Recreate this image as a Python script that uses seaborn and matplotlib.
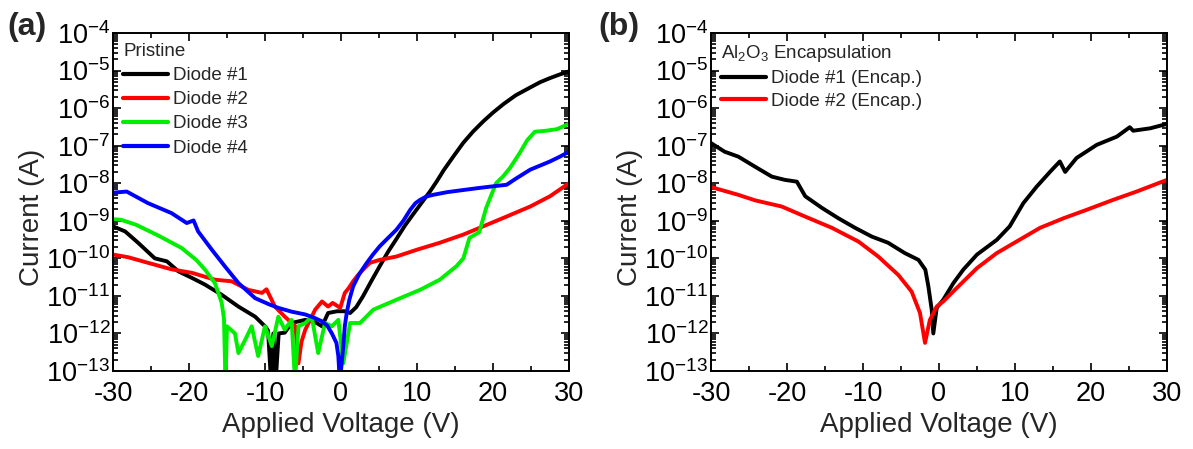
import numpy as np
import pandas as pd
import matplotlib
matplotlib.use("Agg")
import matplotlib.pyplot as plt
import matplotlib.ticker as mticker
import seaborn as sns

# ---- Pristine diodes (panel a) ----
v_d1 = [-30, -28.4, -26.7, -24.5, -22.9, -21.4, -19.6, -17.9, -15.7, -13.5, -11.3, -10.0,
        -9.6, -9.2, -8.9, -8.6, -8.2, -7.4, -6.5, -4.7, -3.4, -2.5, -1.7, -0.5, 0.5, 1.2,
        2.0, 2.9, 4.0, 5.1, 6.2, 7.3, 8.4, 9.5, 10.6, 11.7, 12.6, 13.5, 14.8, 16.1, 17.4,
        18.7, 20.0, 21.4, 23.0, 24.9, 26.2, 27.5, 28.8, 30]
i_d1 = [7.1e-10, 5.2e-10, 2.6e-10, 1.0e-10, 8.3e-11, 4.5e-11, 3.0e-11, 2.0e-11, 1.07e-11,
        5.2e-12, 2.8e-12, 1.55e-12, 1.2e-12, 5e-14, 1.0e-12, 5e-14, 1.0e-12, 1.05e-12,
        1.9e-12, 2.3e-12, 2.0e-12, 1.55e-12, 3.5e-12, 3.9e-12, 3.9e-12, 3.5e-12, 5.0e-12,
        9.8e-12, 2.5e-11, 6.2e-11, 1.5e-10, 3.3e-10, 7.4e-10, 1.5e-9, 3.0e-9, 6.0e-9,
        1.12e-8, 2.2e-8, 5.2e-8, 1.2e-7, 2.4e-7, 4.4e-7, 7.6e-7, 1.29e-6, 2.2e-6, 3.55e-6,
        4.9e-6, 6.3e-6, 7.9e-6, 9.5e-6]

v_d2 = [-30, -28, -25.4, -22.3, -19.6, -16.6, -14.4, -12.2, -10.4, -9.8, -8.7, -7.4, -6.0,
        -5.6, -5.2, -4.7, -3.4, -2.5, -1.7, -1.1, -0.1, 0.5, 1.0, 1.6, 2.2, 2.9, 3.8, 5.1,
        7.3, 10.0, 13.0, 16.1, 18.7, 21.8, 24.9, 27.5, 30]
i_d2 = [1.26e-10, 1.07e-10, 7.6e-11, 5.1e-11, 4.1e-11, 2.7e-11, 2.45e-11, 1.45e-11, 1.2e-11,
        1.5e-11, 5.2e-12, 2.8e-12, 1.55e-12, 1.6e-13, 6e-13, 1.26e-12, 4.3e-12, 7.1e-12,
        5.2e-12, 6.5e-12, 4.8e-12, 1.2e-11, 1.6e-11, 2.45e-11, 3.5e-11, 5.0e-11, 7.6e-11,
        9.1e-11, 1.12e-10, 1.7e-10, 2.6e-10, 4.3e-10, 7.1e-10, 1.3e-9, 2.4e-9, 4.5e-9,
        1.0e-8]

v_d3 = [-30, -29, -27, -24, -21, -19, -17.9, -17.2, -16.6, -16.0, -15.7, -15.4, -15.2,
        -15.0, -13.95, -13.5, -12.6, -11.75, -10.9, -10.0, -9.1, -8.25, -7.4, -6.5, -6.05,
        -5.6, -4.7, -3.85, -3.0, -2.1, -1.2, -0.35, 0.3, 1.2, 2.5, 4.25, 7.3, 10.4, 13.0,
        15.2, 16.1, 16.9, 18.2, 19.1, 20.4, 21.3, 22.2, 23.5, 24.5, 25.5, 27.0, 28.4, 30]
i_d3 = [1.1e-9, 1.07e-9, 7.9e-10, 4.0e-10, 1.9e-10, 8.9e-11, 5.0e-11, 3.2e-11, 2.2e-11,
        1.0e-11, 6.5e-12, 2.5e-12, 5e-14, 1.55e-12, 1.0e-12, 3.0e-13, 6.8e-13, 1.55e-12,
        2.5e-13, 1.55e-12, 4.6e-13, 2.8e-12, 1.26e-12, 2.3e-12, 5e-14, 1.55e-12, 1.9e-12,
        2.8e-12, 3.0e-13, 1.9e-12, 1.55e-12, 2.3e-12, 1.6e-13, 1.9e-12, 1.9e-12, 4.3e-12,
        7.9e-12, 1.45e-11, 2.7e-11, 6.2e-11, 1.0e-10, 3.5e-10, 5.0e-10, 2.2e-9, 1.0e-8,
        1.5e-8, 2.5e-8, 6.3e-8, 1.4e-7, 2.35e-7, 2.5e-7, 2.75e-7, 3.8e-7]

v_d4 = [-30, -28.2, -25.4, -22.3, -20.3, -19.4, -18.8, -17.0, -15.3, -13.5, -11.3, -9.5,
        -8.25, -6.5, -4.7, -3.5, -2.5, -1.8, -1.2, -0.6, -0.35, -0.15, 0.3, 0.5, 0.75, 1.1,
        1.6, 2.4, 3.4, 4.2, 5.1, 6.2, 7.3, 8.2, 9.1, 9.8, 10.4, 11.2, 12.1, 14.0, 16.1,
        18.0, 19.6, 21.8, 23.0, 24.9, 26.2, 27.5, 28.8, 30]
i_d4 = [5.6e-9, 6.0e-9, 2.95e-9, 1.6e-9, 8.7e-10, 1.02e-9, 5.2e-10, 1.7e-10, 6.2e-11,
        2.2e-11, 8.7e-12, 6.0e-12, 4.8e-12, 3.8e-12, 3.2e-12, 2.6e-12, 2.1e-12, 1.6e-12,
        1.0e-12, 5.6e-13, 2.5e-13, 5e-14, 4.6e-13, 1.55e-12, 3.5e-12, 7.9e-12, 1.8e-11,
        3.8e-11, 7.6e-11, 1.26e-10, 2.1e-10, 3.5e-10, 5.8e-10, 1.0e-9, 1.95e-9, 2.95e-9,
        3.6e-9, 4.4e-9, 4.9e-9, 5.8e-9, 6.6e-9, 7.4e-9, 8.1e-9, 9.1e-9, 1.32e-8, 2.3e-8,
        2.95e-8, 3.8e-8, 5.1e-8, 6.9e-8]

# ---- Al2O3-encapsulated diodes (panel b) ----
v_e1 = [-30, -28.2, -26.4, -24.2, -22.0, -20.3, -18.7, -17.6, -15.4, -13.25, -11.05, -8.85,
        -6.7, -4.5, -2.7, -1.8, -1.4, -0.96, -0.75, -0.3, 0.56, 1.9, 3.2, 5.0, 7.6, 9.3,
        11.1, 12.85, 14.6, 15.9, 16.6, 18.1, 20.75, 23.4, 25.1, 25.55, 27.8, 30]
i_e1 = [1.17e-7, 6.9e-8, 5.1e-8, 2.75e-8, 1.5e-8, 1.23e-8, 1.1e-8, 4.5e-9, 2.2e-9, 1.17e-9,
        6.5e-10, 3.8e-10, 2.6e-10, 1.38e-10, 9.1e-11, 5.0e-11, 1.8e-11, 4.3e-12, 1.0e-12,
        4.8e-12, 7.9e-12, 2.2e-11, 5.0e-11, 1.26e-10, 3.1e-10, 7.1e-10, 2.95e-9, 8.1e-9,
        2.0e-8, 3.8e-8, 2.0e-8, 4.7e-8, 1.05e-7, 1.74e-7, 3.1e-7, 2.5e-7, 2.9e-7, 3.8e-7]

v_e2 = [-30, -26.4, -24.2, -20.7, -17.6, -14.1, -10.6, -8.0, -5.35, -3.6, -2.5, -1.84, -1.2,
        -0.3, 0.56, 2.3, 5.0, 7.6, 10.2, 13.3, 16.4, 19.4, 22.9, 26.0, 30]
i_e2 = [7.9e-9, 4.9e-9, 3.5e-9, 2.4e-9, 1.29e-9, 6.5e-10, 2.8e-10, 1.12e-10, 3.6e-11, 1.3e-11,
        3.5e-12, 5.6e-13, 2.3e-12, 5.2e-12, 7.1e-12, 1.6e-11, 5.5e-11, 1.38e-10, 2.8e-10,
        6.5e-10, 1.17e-9, 1.95e-9, 3.6e-9, 6.0e-9, 1.23e-8]

labels_a = ["Diode #1", "Diode #2", "Diode #3", "Diode #4"]
colors_a = ["#000000", "#ff0000", "#00ee00", "#0000ff"]
labels_b = ["Diode #1 (Encap.)", "Diode #2 (Encap.)"]
colors_b = ["#000000", "#ff0000"]

df_a = pd.concat([
    pd.DataFrame({"V": v, "I": i, "diode": lab})
    for v, i, lab in zip([v_d1, v_d2, v_d3, v_d4], [i_d1, i_d2, i_d3, i_d4], labels_a)
], ignore_index=True)
df_b = pd.concat([
    pd.DataFrame({"V": v, "I": i, "diode": lab})
    for v, i, lab in zip([v_e1, v_e2], [i_e1, i_e2], labels_b)
], ignore_index=True)

sns.set_style("ticks")
plt.rcParams["font.family"] = ["Liberation Sans", "DejaVu Sans"]
plt.rcParams["mathtext.fontset"] = "custom"
plt.rcParams["mathtext.rm"] = "Liberation Sans"
plt.rcParams["mathtext.it"] = "Liberation Sans:italic"
plt.rcParams["mathtext.bf"] = "Liberation Sans:bold"
plt.rcParams["axes.unicode_minus"] = False

fig = plt.figure(figsize=(11.93, 4.49), dpi=100)
ax_a = fig.add_axes([113 / 1193, 1 - 371 / 449, 456 / 1193, 338 / 449])
ax_b = fig.add_axes([711 / 1193, 1 - 371 / 449, 456 / 1193, 338 / 449])


def draw_panel(ax, df, labels, colors, title, letter, letter_x, spacing):
    sns.lineplot(data=df, x="V", y="I", hue="diode", hue_order=labels,
                 palette=colors, sort=False, estimator=None, lw=2.8, ax=ax)
    ax.set_yscale("log")
    ax.set_xlim(-30, 30)
    ax.set_ylim(1e-13, 1e-4)
    ax.xaxis.set_major_locator(mticker.MultipleLocator(10))
    ax.xaxis.set_minor_locator(mticker.MultipleLocator(5))
    ax.yaxis.set_major_locator(mticker.LogLocator(base=10, numticks=20))
    ax.yaxis.set_minor_locator(mticker.LogLocator(base=10, subs=np.arange(2, 10), numticks=20))
    ax.yaxis.set_minor_formatter(mticker.NullFormatter())
    ax.tick_params(which="both", direction="in", top=True, right=True, width=1.2,
                   colors="black")
    ax.tick_params(which="major", length=6, labelsize=19.5)
    ax.tick_params(axis="x", which="major", pad=7.5)
    ax.tick_params(axis="y", which="major", pad=2)
    ax.tick_params(which="minor", length=3.5)
    for s in ax.spines.values():
        s.set_linewidth(1.4)
        s.set_color("black")
    ax.set_xlabel("Applied Voltage (V)", fontsize=20, labelpad=3)
    ax.set_ylabel("Current (A)", fontsize=20)
    ax.yaxis.set_label_coords(-0.15, 0.455)
    leg = ax.legend(loc="upper left", bbox_to_anchor=(0.0, 1.0), frameon=False,
                    title=title, title_fontsize=13.5, fontsize=13.5, alignment="left",
                    handlelength=2.4, handletextpad=0.25, labelspacing=spacing,
                    borderaxespad=0.25, borderpad=0.3)
    for line in leg.get_lines():
        line.set_linewidth(3.0)
    ax.text(letter_x, 1.018, letter, transform=ax.transAxes, fontsize=23,
            fontweight="bold", ha="left", va="center")


draw_panel(ax_a, df_a, labels_a, colors_a, "Pristine", "(a)", -0.232, 0.37)
draw_panel(ax_b, df_b, labels_b, colors_b, "Al$_2$O$_3$ Encapsulation", "(b)", -0.248, 0.3)

fig.savefig("out.png", dpi=100)
